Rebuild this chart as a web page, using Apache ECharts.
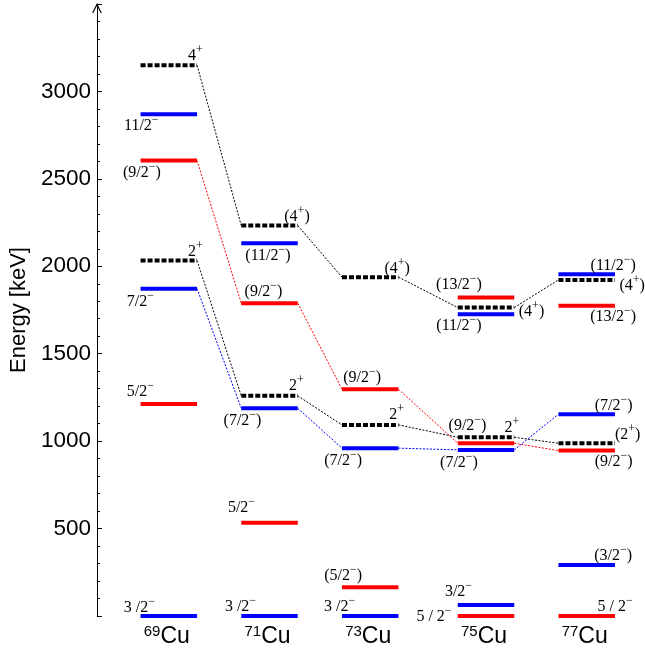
<!DOCTYPE html>
<html><head><meta charset="utf-8">
<script src="https://cdn.jsdelivr.net/npm/echarts@6/dist/echarts.min.js"></script>
<style>html,body{margin:0;padding:0;background:#fff}#c{width:645px;height:653px}</style>
</head><body><div id="c"></div>
<script>
// ---- data ----
const massNumbers = ['69', '71', '73', '75', '77'];
const elementSymbol = 'Cu';
const yTickLabels = [500, 1000, 1500, 2000, 2500, 3000];

const energy4plus  = [3150, 2233, 1938, 1764, 1922];
const label4plus   = ['4+', '(4+)', '(4+)', '(4+)', '(4+)'];
const energy2plus  = [2033, 1259, 1093, 1022, 988];
const label2plus   = ['2+', '2+', '2+', '2+', '(2+)'];
const energy9half  = [2605, 1789, 1297, 988, 946];
const label9half   = ['(9/2−)', '(9/2−)', '(9/2−)', '(9/2−)', '(9/2−)'];
const energy7half  = [1872, 1188, 960, 950, 1154];
const label7half   = ['7/2−', '(7/2−)', '(7/2−)', '(7/2−)', '(7/2−)'];
const energy11half = [2870, 2132, null, 1726, 1955];
const label11half  = ['11/2−', '(11/2−)', null, '(11/2−)', '(11/2−)'];
const energy13half = [null, null, null, 1821, 1775];
const label13half  = [null, null, null, '(13/2−)', '(13/2−)'];
const energy5half  = [1213, 534, 164, 0, 0];
const label5half   = ['5/2−', '5/2−', '(5/2−)', '5 / 2−', '5 / 2−'];
const energy3half  = [0, 0, 0, 63, 292];
const label3half   = ['3 /2−', '3 /2−', '3 /2−', '3/2−', '(3/2−)'];

// ---- layout (positions / styles) ----
const colX = [0, 1, 2, 3.15, 4.15];
const HW = 0.2805;
const RED = '#ff0000', BLUE = '#0000ff', BLACK = '#000000';
const off4plus  = [[26.5,-9],[27.5,-8],[27,-8],[45.5,5],[45.5,6]];
const off2plus  = [[26.5,-8],[27,-9.5],[26.5,-10],[26,-9],[41,-8]];
const off9half  = [[-27,13],[-6,-11],[-8,-11],[-18.5,-17],[27,12]];
const off7half  = [[-28.5,14],[-27,13],[-27,13],[-27,13],[27,-8]];
const off11half = [[-27.5,12],[-1.5,13],null,[-27,12],[26.5,-8]];
const off13half = [null,null,null,[-27,-12],[26.5,12]];
const off5half  = [[-28.5,-12],[-28,-14],[-27,-11],[-52,1.5],[28.5,-8.5]];
const off3half  = [[-29.5,-8],[-29,-8.5],[-30.5,-8.5],[-27.5,-13],[26.5,-9]];

const bands = [
  {e: energy4plus,  l: label4plus,  o: off4plus,  c: BLACK, dashed: true,  connect: true},
  {e: energy2plus,  l: label2plus,  o: off2plus,  c: BLACK, dashed: true,  connect: true},
  {e: energy9half,  l: label9half,  o: off9half,  c: RED,   dashed: false, connect: true},
  {e: energy7half,  l: label7half,  o: off7half,  c: BLUE,  dashed: false, connect: true},
  {e: energy11half, l: label11half, o: off11half, c: BLUE,  dashed: false, connect: false},
  {e: energy13half, l: label13half, o: off13half, c: RED,   dashed: false, connect: false},
  {e: energy5half,  l: label5half,  o: off5half,  c: RED,   dashed: false, connect: false},
  {e: energy3half,  l: label3half,  o: off3half,  c: BLUE,  dashed: false, connect: false}
];

function richLabel(s) {
  const m = s.match(/^(.*?)([+−])(\)?)$/);
  if (!m) return '{n|' + s + '}';
  return '{n|' + m[1] + '}{s|' + m[2] + '}' + (m[3] ? '{n|' + m[3] + '}' : '');
}
const levelRich = {
  n: {fontFamily: 'Liberation Serif', fontSize: 16, lineHeight: 20, verticalAlign: 'bottom', fill: '#000'},
  s: {fontFamily: 'Liberation Serif', fontSize: 12, lineHeight: 12, verticalAlign: 'top', fill: '#000'}
};

function bandSeries(b) {
  const data = [];
  b.e.forEach((en, i) => { if (en != null) data.push([colX[i], en, i]); });
  return {
    type: 'custom', coordinateSystem: 'cartesian2d', z: 3, silent: true,
    encode: {x: 0, y: 1},
    data: data,
    renderItem: function (params, api) {
      const x = api.value(0), en = api.value(1), i = api.value(2);
      const p1 = api.coord([x - HW, en]);
      const p2 = api.coord([x + HW, en]);
      const children = [];
      if (b.connect && i + 1 < colX.length && b.e[i + 1] != null) {
        const q = api.coord([colX[i + 1] - HW, b.e[i + 1]]);
        children.push({type: 'line', z2: 1, shape: {x1: p2[0], y1: p2[1], x2: q[0], y2: q[1]},
          style: {stroke: b.c, lineWidth: 1, lineDash: [2, 1.5]}});
      }
      children.push({type: 'line', z2: 5, shape: {x1: p1[0], y1: p1[1], x2: p2[0], y2: p2[1]},
        style: {stroke: b.c, lineWidth: 4, lineCap: 'butt', lineDash: b.dashed ? [5, 2] : null}});
      const off = b.o[i];
      if (b.l[i] && off) {
        children.push({type: 'text', z2: 6,
          x: (p1[0] + p2[0]) / 2 + off[0], y: p1[1] + off[1] - 2.5,
          style: {text: richLabel(b.l[i]), rich: levelRich, align: 'center', verticalAlign: 'middle'}});
      }
      return {type: 'group', children: children};
    }
  };
}

const series = bands.map(bandSeries);
series.push({
  type: 'custom', coordinateSystem: 'cartesian2d', silent: true, z: 4,
  encode: {x: 0, y: 1},
  data: massNumbers.map((m, i) => [colX[i], 0, i]),
  renderItem: function (params, api) {
    const p = api.coord([api.value(0), 0]);
    const m = massNumbers[api.value(2)];
    return {type: 'text', x: p[0] - 2, y: p[1] + 20,
      style: {text: '{s|' + m + '}{n|' + elementSymbol + '}', align: 'center', verticalAlign: 'middle',
        rich: {
          n: {fontFamily: 'Liberation Sans', fontSize: 23, lineHeight: 24, verticalAlign: 'bottom', fill: '#000'},
          s: {fontFamily: 'Liberation Sans', fontSize: 15, lineHeight: 15, verticalAlign: 'top', fill: '#000'}
        }}};
  }
});

const chart = echarts.init(document.getElementById('c'), null, {renderer: 'canvas'});
chart.setOption({
  animation: false,
  backgroundColor: '#fff',
  grid: {left: 92, right: 0, top: 4, bottom: 37},
  xAxis: {type: 'value', min: -0.7136, max: 4.729, show: false},
  yAxis: {
    type: 'value', min: 0, max: 3500, interval: 500,
    name: 'Energy [keV]', nameLocation: 'middle', nameGap: 58,
    nameTextStyle: {fontFamily: 'Liberation Sans', fontSize: 22, color: '#000'},
    axisLine: {show: true, onZero: false, lineStyle: {color: '#000', width: 1}},
    axisTick: {show: true, inside: true, length: 5, lineStyle: {color: '#000'}},
    minorTick: {show: true, splitNumber: 5, length: 3, lineStyle: {color: '#000'}},
    splitLine: {show: false},
    axisLabel: {
      margin: 6, fontFamily: 'Liberation Sans', fontSize: 22.5, color: '#000',
      formatter: v => yTickLabels.indexOf(v) >= 0 ? String(v) : ''
    }
  },
  series: series
});
const axTop = chart.convertToPixel({yAxisIndex: 0}, 3500);
const axX = chart.convertToPixel({xAxisIndex: 0}, -0.7136);
chart.setOption({graphic: [{type: 'polyline', z: 10,
  shape: {points: [[axX - 4.3, axTop + 9], [axX, axTop + 0.5], [axX + 4.3, axTop + 9]]},
  style: {stroke: '#000', lineWidth: 1.2, fill: null}}]});
</script></body></html>
